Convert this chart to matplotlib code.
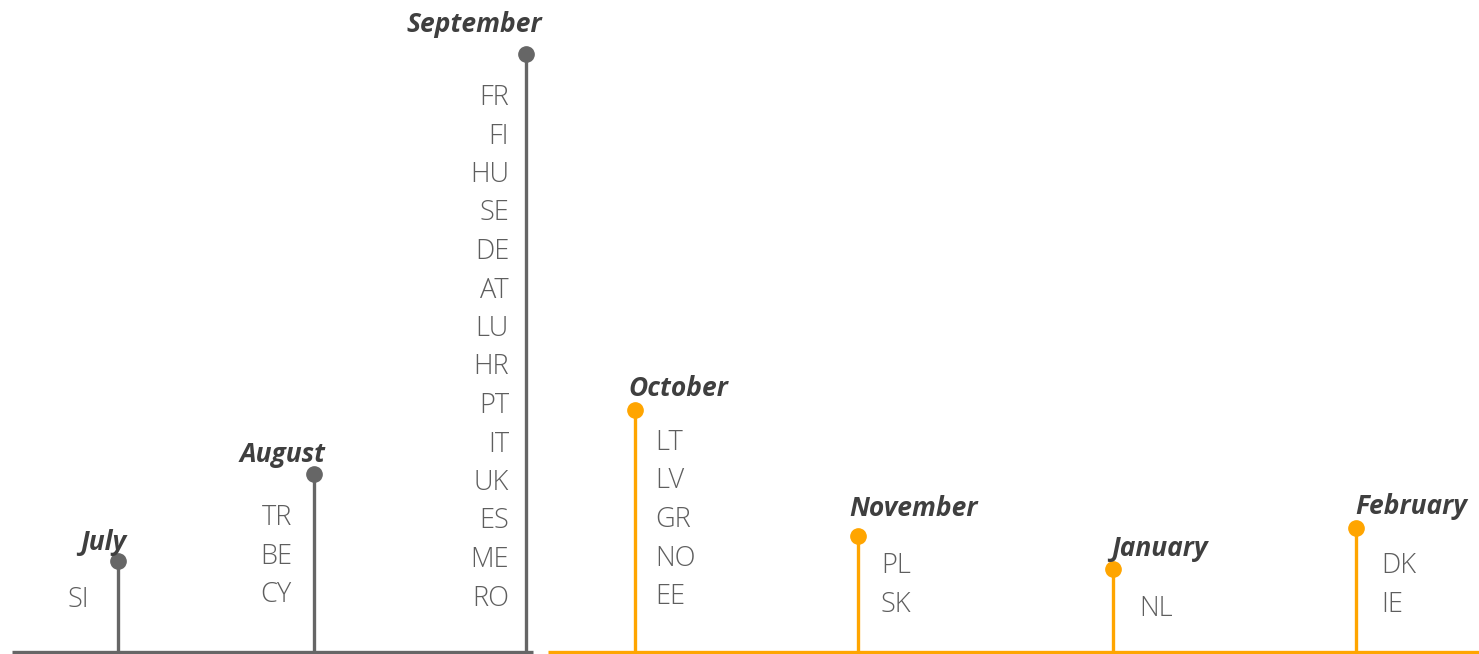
import matplotlib
matplotlib.use("Agg")
import matplotlib.pyplot as plt

months = ["July", "August", "September", "October", "November", "January", "February"]
x_pos = [118, 314, 526, 635, 858, 1113, 1356]
heights = [91, 178, 598, 242, 116, 83, 124]
countries = [
    ["SI"],
    ["TR", "BE", "CY"],
    ["FR", "FI", "HU", "SE", "DE", "AT", "LU", "HR", "PT", "IT", "UK", "ES", "ME", "RO"],
    ["LT", "LV", "GR", "NO", "EE"],
    ["PL", "SK"],
    ["NL"],
    ["DK", "IE"],
]
group = ["past", "past", "past", "future", "future", "future", "future"]
baseline_spans = {"past": (12, 533), "future": (548, 1479)}

colors = {"past": "#666666", "future": "#FFA500"}
month_color = "#3F3F3F"
code_color = "#5E5E5E"

# layout offsets (pixels)
month_dx = [8, 12, 16, -7, -9, -2, -1]
month_dy = [18, 20, 30, 22, 27, 21, 22]
code_dx = [29, 22, 17, 20, 23, 26, 25]
code_dy = [39, 44, 44, 33, 30, 40, 38]
line_gap = 38.5

fig = plt.figure(figsize=(14.79, 6.54), dpi=100)
ax = fig.add_axes([0, 0, 1, 1])
ax.set_xlim(0, 1479)
ax.set_ylim(-2, 652)
ax.axis("off")

for g, (x0, x1) in baseline_spans.items():
    ax.plot([x0, x1], [0, 0], color=colors[g], lw=2.4, solid_capstyle="butt", zorder=2)

for i, m in enumerate(months):
    g = group[i]
    c = colors[g]
    x = x_pos[i]
    h = heights[i]
    ax.plot([x, x], [0, h], color=c, lw=2.4, zorder=2, solid_capstyle="butt")
    ax.plot([x], [h], "o", color=c, markersize=11, zorder=3)
    if g == "past":
        ha = "right"
        cx = x - code_dx[i]
    else:
        ha = "left"
        cx = x + code_dx[i]
    ax.text(x + month_dx[i], h + month_dy[i], m, ha=ha, va="center",
            fontsize=19, fontweight="bold", fontstyle="italic",
            family="Open Sans", color=month_color)
    for k, code in enumerate(countries[i]):
        ax.text(cx, h - code_dy[i] - k * line_gap, code, ha=ha,
                va="center", fontsize=19.5, family="Open Sans", fontweight="light",
                color=code_color)

fig.savefig("out.png", dpi=100, facecolor="white")
